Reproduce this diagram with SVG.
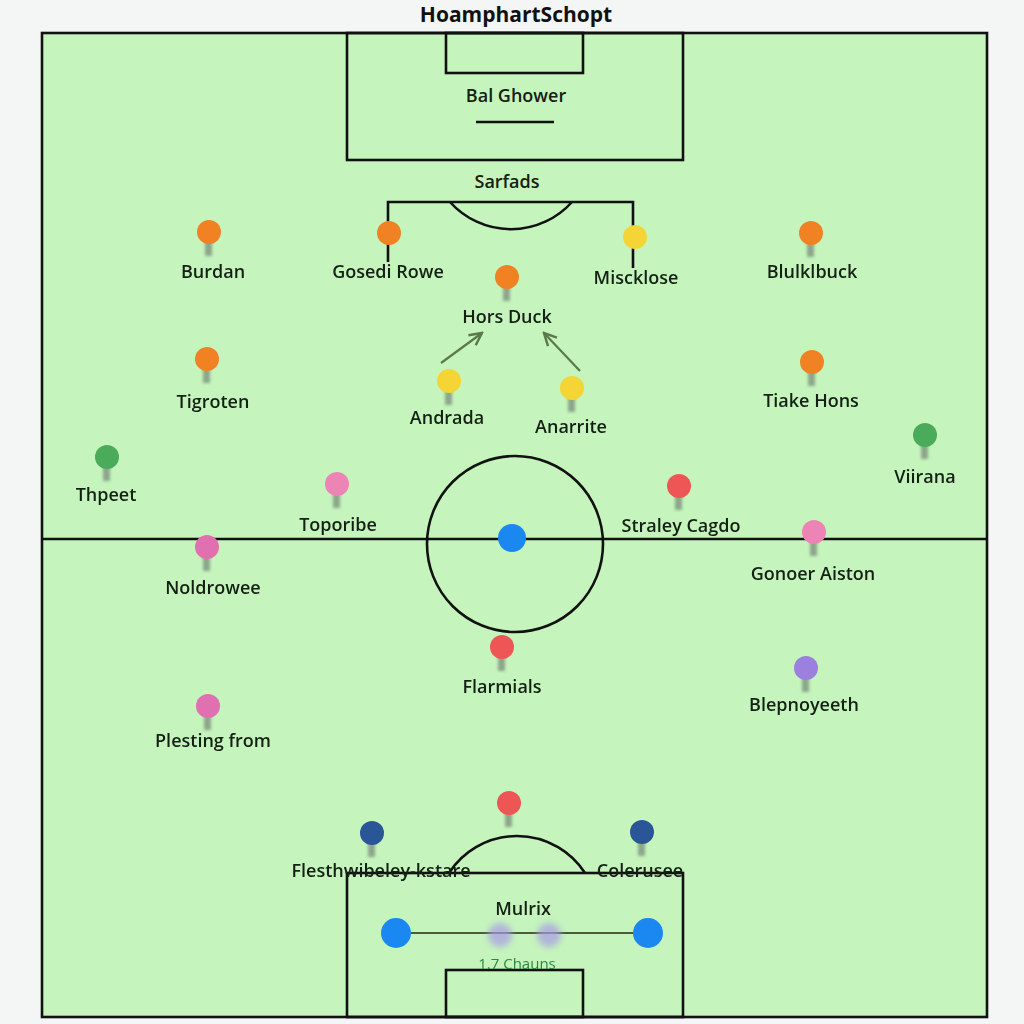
<svg xmlns="http://www.w3.org/2000/svg" width="1024" height="1024" viewBox="0 0 1024 1024">
<defs>
<filter id="blur" x="-100%" y="-100%" width="300%" height="300%"><feGaussianBlur stdDeviation="1.6"/></filter>
<filter id="soft" x="-100%" y="-100%" width="300%" height="300%"><feGaussianBlur stdDeviation="3"/></filter>
<marker id="arr" viewBox="0 0 10 10" refX="9" refY="5" markerWidth="7" markerHeight="7" orient="auto-start-reverse"><path d="M1,1 L9,5 L1,9" fill="none" stroke="#5a7a4a" stroke-width="1.6"/></marker>
</defs>
<style>
.line{fill:none;stroke:#111;stroke-width:2.6}
.lbl{font-family:"Open Sans","Noto Sans",sans-serif;font-size:18px;font-weight:600;fill:#142014;text-anchor:middle}
.stem{fill:#748474;opacity:0.7}
.or{fill:#f08224}.ye{fill:#f5d535}.gr{fill:#4aab5a}.pk{fill:#ec84b5}.pk2{fill:#e070b0}.rd{fill:#ee5555}.pu{fill:#9b80e0}.nv{fill:#2a5597}.bl{fill:#1a88f0}
.conn{stroke:#5a7a4a;stroke-width:2.2;fill:none}
</style>
<rect x="0" y="0" width="1024" height="1024" fill="#f3f6f5"/>
<text x="516" y="22" font-family="Open Sans,Noto Sans,sans-serif" font-size="21" font-weight="700" fill="#111" text-anchor="middle">HoamphartSchopt</text>
<g id="pitch">
<rect x="42" y="33" width="945" height="984" style="fill:#c5f5bd;stroke:#111;stroke-width:2.6"/>
<rect x="347" y="33" width="336" height="127" class="line"/>
<rect x="446" y="33" width="137" height="40" class="line"/>
<line x1="476" y1="122" x2="554" y2="122" class="line"/>
<line x1="42" y1="539" x2="987" y2="539" class="line"/>
<circle cx="515" cy="544" r="88" class="line"/>
<path d="M388,262 V202 H633 V268" class="line"/>
<path d="M450,202 A82,82 0 0 0 572,202" class="line"/>
<rect x="347" y="873" width="336" height="144" class="line"/>
<rect x="446" y="970" width="137" height="47" class="line"/>
<path d="M449,873 A81,81 0 0 1 585,873" class="line"/>
</g>
<text x="516" y="102" class="lbl">Bal Ghower</text>
<text x="507" y="188" class="lbl">Sarfads</text>
<g id="connectors">
<line x1="441" y1="363" x2="482" y2="333" class="conn" marker-end="url(#arr)"/>
<line x1="580" y1="371" x2="544" y2="333" class="conn" marker-end="url(#arr)"/>
<line x1="411" y1="933" x2="633" y2="933" stroke="#4a5a3a" stroke-width="2.2"/>
</g>
<g filter="url(#blur)">
<rect x="205" y="240" width="7" height="16" class="stem"/>
<rect x="503" y="285" width="7" height="16" class="stem"/>
<rect x="807" y="241" width="7" height="16" class="stem"/>
<rect x="203" y="367" width="7" height="16" class="stem"/>
<rect x="808" y="370" width="7" height="16" class="stem"/>
<rect x="445" y="389" width="7" height="16" class="stem"/>
<rect x="568" y="396" width="7" height="16" class="stem"/>
<rect x="103" y="465" width="7" height="16" class="stem"/>
<rect x="921" y="443" width="7" height="16" class="stem"/>
<rect x="333" y="492" width="7" height="16" class="stem"/>
<rect x="675" y="494" width="7" height="16" class="stem"/>
<rect x="810" y="540" width="7" height="16" class="stem"/>
<rect x="203" y="555" width="7" height="16" class="stem"/>
<rect x="498" y="655" width="7" height="16" class="stem"/>
<rect x="802" y="676" width="7" height="16" class="stem"/>
<rect x="204" y="714" width="7" height="16" class="stem"/>
<rect x="505" y="811" width="7" height="16" class="stem"/>
<rect x="368" y="841" width="7" height="16" class="stem"/>
<rect x="638" y="840" width="7" height="16" class="stem"/>
</g>
<g id="n-burdan"><circle cx="209" cy="232" r="12" class="or"/><text x="213" y="278" class="lbl">Burdan</text></g>
<g id="n-gosedi"><circle cx="389" cy="233" r="12" class="or"/><text x="388" y="278" class="lbl">Gosedi Rowe</text></g>
<g id="n-hors"><circle cx="507" cy="277" r="12" class="or"/><text x="507" y="323" class="lbl">Hors Duck</text></g>
<g id="n-misck"><circle cx="635" cy="237" r="12" class="ye"/><text x="636" y="284" class="lbl">Miscklose</text></g>
<g id="n-bluluk"><circle cx="811" cy="233" r="12" class="or"/><text x="812" y="278" class="lbl">Blulklbuck</text></g>
<g id="n-tigroten"><circle cx="207" cy="359" r="12" class="or"/><text x="213" y="408" class="lbl">Tigroten</text></g>
<g id="n-tiake"><circle cx="812" cy="362" r="12" class="or"/><text x="811" y="407" class="lbl">Tiake Hons</text></g>
<g id="n-andrada"><circle cx="449" cy="381" r="12" class="ye"/><text x="447" y="424" class="lbl">Andrada</text></g>
<g id="n-anarrite"><circle cx="572" cy="388" r="12" class="ye"/><text x="571" y="433" class="lbl">Anarrite</text></g>
<g id="n-thpeet"><circle cx="107" cy="457" r="12" class="gr"/><text x="106" y="501" class="lbl">Thpeet</text></g>
<g id="n-viirana"><circle cx="925" cy="435" r="12" class="gr"/><text x="925" y="483" class="lbl">Viirana</text></g>
<g id="n-toporibe"><circle cx="337" cy="484" r="12" class="pk"/><text x="338" y="531" class="lbl">Toporibe</text></g>
<g id="n-straley"><circle cx="679" cy="486" r="12" class="rd"/><text x="681" y="532" class="lbl">Straley Cagdo</text></g>
<g id="n-gonoer"><circle cx="814" cy="532" r="12" class="pk"/><text x="813" y="580" class="lbl">Gonoer Aiston</text></g>
<g id="n-noldrowee"><circle cx="207" cy="547" r="12" class="pk2"/><text x="213" y="594" class="lbl">Noldrowee</text></g>
<g id="n-center"><circle cx="512" cy="538" r="14" class="bl"/></g>
<g id="n-flarmials"><circle cx="502" cy="647" r="12" class="rd"/><text x="502" y="693" class="lbl">Flarmials</text></g>
<g id="n-blepno"><circle cx="806" cy="668" r="12" class="pu"/><text x="804" y="711" class="lbl">Blepnoyeeth</text></g>
<g id="n-plesting"><circle cx="208" cy="706" r="12" class="pk2"/><text x="213" y="747" class="lbl">Plesting from</text></g>
<g id="n-red-bottom"><circle cx="509" cy="803" r="12" class="rd"/></g>
<g id="n-flesth"><circle cx="372" cy="833" r="12" class="nv"/><text x="381" y="877" class="lbl">Flesthwibeley-kstare</text></g>
<g id="n-colerusee"><circle cx="642" cy="832" r="12" class="nv"/><text x="640" y="877" class="lbl">Colerusee</text></g>
<text x="523" y="915" class="lbl">Mulrix</text>
<g id="n-ghosts"><circle cx="500" cy="935" r="12" fill="#a99ae6" opacity="0.7" filter="url(#soft)"/><circle cx="549" cy="935" r="12" fill="#a99ae6" opacity="0.7" filter="url(#soft)"/></g>
<g id="n-left-blue"><circle cx="396" cy="933" r="15" class="bl"/></g>
<g id="n-right-blue"><circle cx="648" cy="933" r="15" class="bl"/></g>
<text x="517" y="969" font-family="Open Sans,Noto Sans,sans-serif" font-size="15" fill="#2a8a3a" text-anchor="middle">1.7 Chauns</text>
</svg>
